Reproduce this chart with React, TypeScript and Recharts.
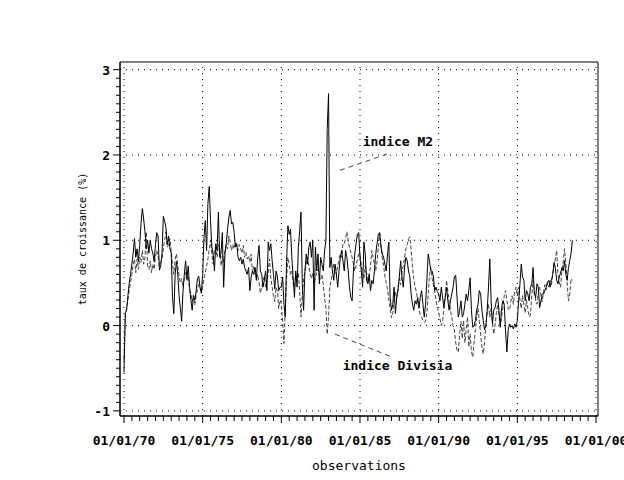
import React from "react";
import {
  LineChart,
  Line,
  XAxis,
  YAxis,
  ReferenceLine,
  ReferenceArea,
  ReferenceDot,
} from "recharts";

// taux de croissance mensuels, janvier 1970 -> juillet 1998
const indiceM2 = [
  -0.55, 0.15, 0.18, 0.35, 0.5, 0.6, 0.72, 0.85, 1.02, 0.8, 0.9, 0.75,
  0.95, 1.2, 1.37, 1.25, 1.1, 0.9, 1.0, 0.85, 1.0, 0.9, 0.85, 0.75,
  0.95, 1.09, 1.05, 0.65, 0.7, 0.85, 1.28, 1.22, 1.15, 0.95, 1.05, 0.9,
  0.85, 0.33, 0.14, 0.6, 0.75, 0.6, 0.35, 0.2, 0.05, 0.4, 0.6, 0.76,
  0.55, 0.7, 0.45, 0.3, 0.18, 0.35, 0.3, 0.4, 0.55, 0.58, 0.45, 0.38,
  0.6, 1.03, 1.23, 0.88, 1.43, 1.63, 1.23, 0.92, 0.84, 0.64, 0.96, 0.88,
  1.33, 0.8, 0.85, 1.09, 0.45, 0.84, 0.96, 1.13, 1.27, 1.35, 1.19, 1.21,
  1.09, 0.92, 0.96, 0.8, 0.76, 0.8, 0.72, 0.78, 0.68, 0.64, 0.6, 0.68,
  0.41, 0.57, 0.64, 0.6, 0.68, 0.53, 0.8, 0.94, 0.64, 0.6, 0.45, 0.53,
  0.64, 0.41, 0.98, 0.88, 0.96, 0.76, 0.6, 0.43, 0.64, 0.57, 0.41, 0.45,
  0.45, 0.57, 0.25, 0.1, 0.75, 1.17, 1.07, 1.13, 0.8, 0.57, 0.33, 0.64,
  0.45, 0.92, 1.11, 1.33, 0.49, 0.18, 0.64, 0.84, 0.72, 0.92, 0.98, 0.8,
  1.0, 0.18, 0.92, 0.64, 0.84, 0.49, 0.8, 0.72, 0.64, 0.88, 1.0, 2.31,
  2.72, 0.68, 0.8, 0.64, 0.53, 0.72, 0.6, 0.45, 0.64, 0.8, 0.88, 0.76,
  0.64, 0.88, 0.8, 0.64, 0.45, 0.33, 0.29, 0.64, 0.84, 0.96, 1.07, 1.09,
  0.8, 0.64, 0.45, 0.98, 0.84, 0.53, 0.49, 0.6, 0.41, 0.53, 0.49, 0.64,
  0.84, 0.96, 1.07, 1.09, 0.92, 0.84, 0.8, 0.72, 0.64, 0.84, 0.98, 0.33,
  0.18, 0.25, 0.45, 0.14, 0.33, 0.41, 0.57, 0.76, 0.57, 0.45, 0.68, 0.8,
  0.76, 0.64, 0.57, 0.37, 0.25, 0.18, 0.29, 0.25, 0.33, 0.21, 0.33, 0.41,
  0.25, 0.1, 0.25, 0.53, 0.84, 0.76, 0.64, 0.64, 0.57, 0.41, 0.45, 0.4,
  0.37, 0.29, 0.45, 0.33, 0.21, 0.33, 0.45, 0.29, 0.18, 0.29, 0.37, 0.45,
  0.57, 0.59, 0.33, 0.1, 0.18, 0.29, 0.1, 0.14, 0.25, 0.37, 0.29, 0.41,
  0.56, 0.18, -0.02, 0.0, 0.06, 0.18, 0.25, 0.41, 0.37, 0.18, 0.06, -0.05,
  0.0, 0.18, 0.45, 0.78, 0.29, 0.02, 0.18, 0.21, 0.29, 0.33, 0.18, -0.02,
  0.21, 0.29, 0.25, -0.06, -0.31, -0.06, 0.02, -0.02, 0.0, -0.04, 0.02, -0.02,
  0.06, 0.29, 0.49, 0.72, 0.57, 0.53, 0.29, 0.41, 0.37, 0.29, 0.45, 0.49,
  0.68, 0.37, 0.33, 0.49, 0.45, 0.21, 0.29, 0.37, 0.37, 0.41, 0.45, 0.51,
  0.53, 0.45, 0.53, 0.6, 0.74, 0.68, 0.53, 0.49, 0.57, 0.62, 0.68, 0.64,
  0.76, 0.6, 0.53, 0.68, 0.76, 0.85, 1.0,
];

const indiceDivisia = [
  -0.4, 0.1, 0.2, 0.3, 0.42, 0.5, 0.6, 0.72, 0.78, 0.62, 0.78, 0.66,
  0.8, 0.74, 0.88, 0.72, 0.8, 1.1, 0.7, 0.66, 0.76, 0.62, 0.72, 0.66,
  0.8, 0.88, 0.82, 0.7, 0.74, 0.78, 0.9, 1.0, 1.1, 0.92, 0.95, 1.02,
  0.88, 0.72, 0.6, 0.78, 0.84, 0.7, 0.58, 0.5, 0.55, 0.45, 0.55, 0.62,
  0.52, 0.58, 0.42, 0.38, 0.28, 0.36, 0.24, 0.35, 0.42, 0.48, 0.44, 0.4,
  0.45, 0.55, 0.62, 0.7, 0.78, 0.9, 1.0, 0.84, 0.72, 0.88, 0.92, 0.8,
  0.95, 0.9, 0.7, 0.82, 0.74, 0.88, 0.95, 0.9, 1.05, 0.98, 0.88, 0.95,
  0.9, 0.98, 0.92, 0.88, 0.95, 0.9, 0.85, 0.94, 0.8, 0.86, 0.78, 0.82,
  0.74, 0.84, 0.62, 0.7, 0.66, 0.55, 0.6, 0.5, 0.38, 0.45, 0.52, 0.58,
  0.45, 0.5, 0.62, 0.78, 0.55, 0.45, 0.35, 0.28, 0.45, 0.4, 0.2, 0.3,
  0.25, 0.05, -0.21, 0.2, 0.55, 0.8, 0.72, 0.6, 0.64, 0.5, 0.45, 0.6,
  0.55, 0.62, 0.4, 0.1, 0.35, 0.55, 0.64, 0.72, 0.8, 0.7, 0.6, 0.55,
  0.62, 0.49, 0.56, 0.62, 0.66, 0.58, 0.54, 0.6, 0.48, 0.33, 0.2, -0.1,
  0.1, 0.45, 0.53, 0.62, 0.72, 0.65, 0.6, 0.7, 0.78, 0.84, 0.8, 0.96,
  0.96, 1.02, 1.1, 0.98, 0.92, 0.86, 0.8, 0.72, 0.64, 0.7, 0.78, 0.84,
  0.84, 0.7, 0.62, 0.55, 0.7, 0.62, 0.5, 0.58, 0.7, 0.88, 0.8, 0.72,
  0.64, 0.75, 0.92, 1.08, 0.95, 0.8, 0.7, 0.58, 0.5, 0.42, 0.3, 0.2,
  0.09, 0.15, 0.3, 0.4, 0.32, 0.45, 0.55, 0.48, 0.62, 0.7, 0.8, 0.9,
  0.95, 1.02, 1.04, 0.88, 0.7, 0.55, 0.45, 0.4, 0.28, 0.2, 0.12, 0.1,
  0.06, 0.04, 0.05, 0.15, 0.35, 0.6, 0.68, 0.55, 0.48, 0.4, 0.3, 0.2,
  0.15, 0.08, 0.0, 0.05, 0.2, 0.35, 0.53, 0.4, 0.28, 0.18, 0.1, 0.0,
  -0.05, -0.2, -0.29, -0.31, -0.1, 0.05, -0.15, 0.06, -0.2, -0.05, 0.1, -0.25,
  -0.1, -0.3, -0.37, -0.2, -0.05, 0.1, 0.2, 0.05, -0.1, -0.25, -0.33, -0.2,
  0.0, 0.15, 0.25, 0.1, 0.2, 0.05, -0.1, 0.0, 0.15, 0.25, 0.12, 0.0,
  0.1, 0.22, 0.35, 0.41, 0.3, 0.2, 0.18, 0.28, 0.35, 0.25, 0.4, 0.45,
  0.35, 0.45, 0.3, 0.2, 0.35, 0.25, 0.15, 0.3, 0.2, 0.1, 0.12, 0.35,
  0.53, 0.4, 0.3, 0.25, 0.38, 0.45, 0.35, 0.28, 0.4, 0.48, 0.42, 0.5,
  0.45, 0.53, 0.48, 0.6, 0.7, 0.78, 0.88, 0.6, 0.5, 0.45, 0.65, 0.75,
  0.9, 0.72, 0.5, 0.29, 0.37, 0.55, 0.53,
];

const startYear = 1970;
const majorYears = [1970, 1975, 1980, 1985, 1990, 1995, 2000];
const majorValues = [-1, 0, 1, 2, 3];

// graduations secondaires : tous les 6 mois en x, tous les 0.1 en y
const xTicks = Array.from({ length: 61 }, (_, k) => startYear + k / 2);
const yTicks = Array.from({ length: 41 }, (_, k) => (k - 10) / 10);

const data = indiceM2.map((v, m) => ({
  t: startYear + m / 12,
  m2: v,
  divisia: indiceDivisia[m],
}));

const FONT = "'DejaVu Sans Mono', monospace";

const fmtDate = (year: number) => `01/01/${String(year % 100).padStart(2, "0")}`;

const XTick = (props: any) => {
  const { x, y, payload } = props;
  const major = majorYears.includes(payload.value);
  return (
    <g>
      <line x1={x} x2={x} y1={y} y2={y + (major ? 7 : 5)} stroke="#000" />
      {major && (
        <text
          x={x}
          y={y + 29}
          textAnchor="middle"
          fontFamily={FONT}
          fontWeight="bold"
          fontSize={13}
          fill="#000"
        >
          {fmtDate(payload.value)}
        </text>
      )}
    </g>
  );
};

const YTick = (props: any) => {
  const { x, y, payload } = props;
  const major = majorValues.includes(payload.value);
  return (
    <g>
      <line x1={x - (major ? 7 : 4)} x2={x} y1={y} y2={y} stroke="#000" />
      {major && (
        <text
          x={x - 10}
          y={y + 5}
          textAnchor="end"
          fontFamily={FONT}
          fontWeight="bold"
          fontSize={13}
          fill="#000"
        >
          {payload.value}
        </text>
      )}
    </g>
  );
};

const note = (text: string) => (props: any) => {
  const { viewBox } = props;
  return (
    <text
      x={viewBox.x}
      y={viewBox.y}
      fontFamily={FONT}
      fontWeight="bold"
      fontSize={13}
      fill="#000"
    >
      {text}
    </text>
  );
};

export default function App() {
  return (
    <div style={{ position: "absolute", left: 0, top: 0, background: "#fff" }}>
      <LineChart
        width={624}
        height={480}
        data={data}
        margin={{ top: 62, right: 26, bottom: 0, left: 0 }}
      >
        <XAxis
          dataKey="t"
          type="number"
          domain={[1969.746, 2000.127]}
          ticks={xTicks}
          interval={0}
          tick={<XTick />}
          tickLine={false}
          tickSize={0}
          tickMargin={0}
          axisLine={{ stroke: "#000" }}
          height={64}
          label={{
            value: "observations",
            position: "insideBottom",
            offset: 10,
            fontFamily: FONT,
            fontSize: 13,
            fill: "#000",
          }}
        />
        <YAxis
          type="number"
          domain={[-1.06, 3.09]}
          ticks={yTicks}
          interval={0}
          tick={<YTick />}
          tickLine={false}
          tickSize={0}
          tickMargin={0}
          axisLine={{ stroke: "#000" }}
          width={120}
          label={{
            value: "taux de croissance (%)",
            angle: -90,
            position: "insideLeft",
            offset: 82,
            textAnchor: "middle",
            fontFamily: FONT,
            fontSize: 10,
            fill: "#000",
          }}
        />
        {/* cadre */}
        <ReferenceArea
          x1={1969.746}
          x2={2000.127}
          y1={-1.06}
          y2={3.09}
          fill="none"
          stroke="#000"
          strokeWidth={1}
        />
        {/* grille en pointillés */}
        {majorYears.map((yr) => (
          <ReferenceLine
            key={`gx${yr}`}
            x={yr}
            stroke="#000"
            strokeDasharray="1 5"
          />
        ))}
        {majorValues.map((v) => (
          <ReferenceLine
            key={`gy${v}`}
            y={v}
            stroke="#000"
            strokeDasharray="1 5"
          />
        ))}
        <Line
          type="linear"
          dataKey="divisia"
          stroke="#444"
          strokeWidth={1}
          strokeDasharray="4 2"
          dot={false}
          isAnimationActive={false}
        />
        <Line
          type="linear"
          dataKey="m2"
          stroke="#000"
          strokeWidth={1}
          dot={false}
          isAnimationActive={false}
        />
        {/* étiquettes des séries */}
        <ReferenceLine
          segment={[
            { x: 1983.73, y: 1.82 },
            { x: 1986.7, y: 2.01 },
          ]}
          stroke="#444"
          strokeDasharray="5 4"
        />
        <ReferenceLine
          segment={[
            { x: 1983.41, y: -0.1 },
            { x: 1986.91, y: -0.36 },
          ]}
          stroke="#444"
          strokeDasharray="5 4"
        />
        <ReferenceDot
          x={1985.17}
          y={2.1}
          r={0}
          stroke="none"
          fill="none"
          label={note("indice M2")}
        />
        <ReferenceDot
          x={1983.9}
          y={-0.52}
          r={0}
          stroke="none"
          fill="none"
          label={note("indice Divisia")}
        />
      </LineChart>
    </div>
  );
}
